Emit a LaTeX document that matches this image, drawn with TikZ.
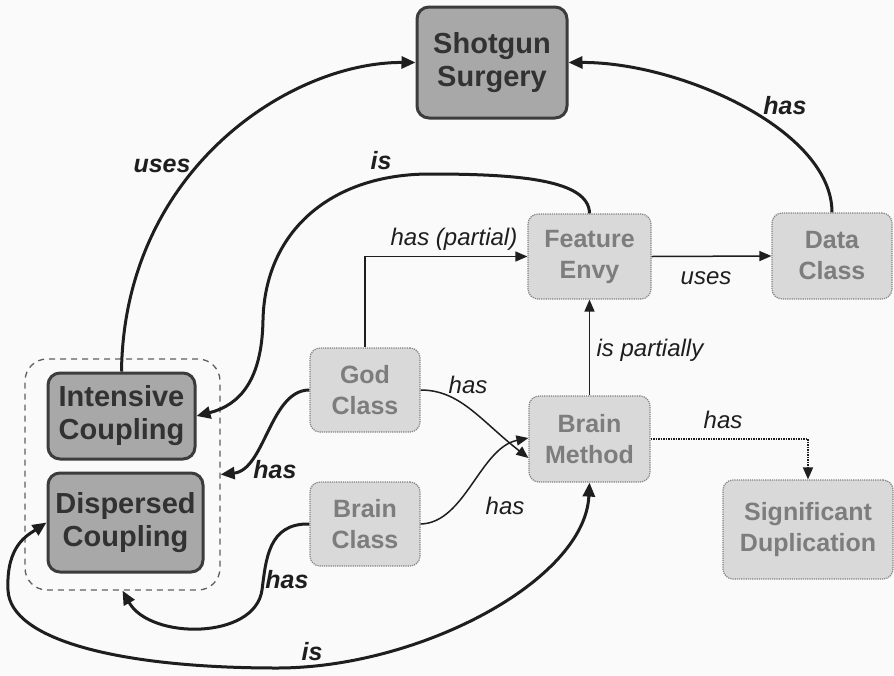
\documentclass[tikz,border=0pt]{standalone}
\usepackage{fontspec}
\setmainfont{Liberation Sans}
\usetikzlibrary{arrows.meta}
\definecolor{bg}{RGB}{250,250,250}
\definecolor{darkfill}{RGB}{168,168,168}
\definecolor{darkline}{RGB}{60,60,60}
\definecolor{darktext}{RGB}{50,50,50}
\definecolor{lightfill}{RGB}{217,217,217}
\definecolor{lightline}{RGB}{130,130,130}
\definecolor{lighttext}{RGB}{125,125,125}
\definecolor{ink}{RGB}{30,30,30}
\definecolor{groupline}{RGB}{95,95,95}

\tikzset{
  smell/.style={rectangle, rounded corners=12pt, draw=darkline, line width=3pt,
    fill=darkfill, text=darktext, font=\fontsize{29}{33}\selectfont\bfseries,
    align=center, inner sep=0pt},
  trait/.style={rectangle, rounded corners=10pt, draw=lightline, densely dotted,
    line width=1.2pt, fill=lightfill, text=lighttext,
    font=\fontsize{25}{31}\selectfont\bfseries, align=center, inner sep=0pt},
  grouping/.style={rectangle, rounded corners=22pt, draw=groupline,
    dash pattern=on 6pt off 5pt, line width=1.3pt, inner sep=0pt},
  heavy/.style={draw=ink, line width=3pt, -{Triangle[length=14pt,width=12pt]}},
  heavyboth/.style={draw=ink, line width=3pt,
    {Triangle[length=14pt,width=12pt]}-{Triangle[length=14pt,width=12pt]}},
  thin/.style={draw=ink, line width=1.5pt, -{Triangle[length=12pt,width=10pt]}},
  blab/.style={font=\fontsize{25}{28}\selectfont\bfseries\itshape, text=ink, inner sep=0pt},
  lab/.style={font=\fontsize{24}{28}\selectfont\itshape, text=ink, inner sep=0pt},
}

\begin{document}
\begin{tikzpicture}[x=1pt,y=-1pt]
  \fill[bg] (0,0) rectangle (894,675);
  \useasboundingbox (0,0) rectangle (894,675);

  % coupling group
  \node[grouping, minimum width=195pt, minimum height=231pt] (grp) at (122.5,474.5) {};

  % disharmonies
  \node[smell, minimum width=150pt, minimum height=111pt] (SS) at (492,62.5) {Shotgun\\Surgery};
  \node[smell, minimum width=147pt, minimum height=86pt] (IC) at (121.5,416) {Intensive\\Coupling};
  \node[smell, minimum width=155pt, minimum height=99pt] (DP) at (125.5,522.5) {Dispersed\\Coupling};

  \node[trait, minimum width=123pt, minimum height=85pt] (FE) at (589.5,256.5) {Feature\\Envy};
  \node[trait, minimum width=120pt, minimum height=86pt] (DC) at (832,256) {Data\\Class};
  \node[trait, minimum width=110pt, minimum height=84pt] (GC) at (365,390) {God\\Class};
  \node[trait, minimum width=110pt, minimum height=84pt] (BC) at (365,524) {Brain\\Class};
  \node[trait, minimum width=121pt, minimum height=86pt] (BM) at (589.5,439) {Brain\\Method};
  \node[trait, minimum width=170pt, minimum height=99pt] (SD) at (808,529.5) {Significant\\Duplication};

  % heavy relations
  \draw[heavy] (IC.north) .. controls (124,170) and (290,62) .. (SS.west);
  \draw[heavy] (DC.north) .. controls (832,130) and (680,62) .. (SS.east);
  \draw[heavy] (FE.north) .. controls (589,180) and (520,174) .. (430,174)
                .. controls (330,174) and (265,232) .. (263,320)
                .. controls (262,380) and (240,405) .. (IC.east);
  \draw[heavy] (GC.west) .. controls (270,390) and (265,470) .. (grp.east);
  \draw[heavy] (BC.west) .. controls (268,523) and (266,560) .. (262,590)
                .. controls (255,640) and (150,640) .. (grp.south);
  \draw[heavyboth] (BM.south) .. controls (585,580) and (420,668) .. (277,668)
                .. controls (120,668) and (10,640) .. (8,590)
                .. controls (6,545) and (28,535) .. (DP.west);

  % thin relations
  \draw[thin] (GC.north) |- (FE.west);
  \draw[thin] (FE.east) -- (DC.west);
  \draw[thin] (BM.north) -- (FE.south);
  \draw[thin] (GC.east) .. controls (460,390) and (480,420) .. ([yshift=-19pt]BM.west);
  \draw[thin] (BC.east) .. controls (465,523) and (480,448) .. ([yshift=1pt]BM.west);
  \draw[thin, densely dotted] (BM.east) -| (SD.north);

  % labels
  \node[blab] (l1) at (162,166) {uses};
  \node[blab] (l2) at (381,161) {is};
  \node[blab] (l3) at (785,106) {has};
  \node[blab] (l4) at (275,470) {has};
  \node[blab] (l5) at (287,580) {has};
  \node[blab] (l6) at (312,652) {is};
  \node[lab] (l7) at (454,239) {has (partial)};
  \node[lab] (l8) at (706,278) {uses};
  \node[lab] (l9) at (650,350) {is partially};
  \node[lab] (l10) at (468,385) {has};
  \node[lab] (l11) at (505,506) {has};
  \node[lab] (l12) at (723,420) {has};
\end{tikzpicture}
\end{document}
